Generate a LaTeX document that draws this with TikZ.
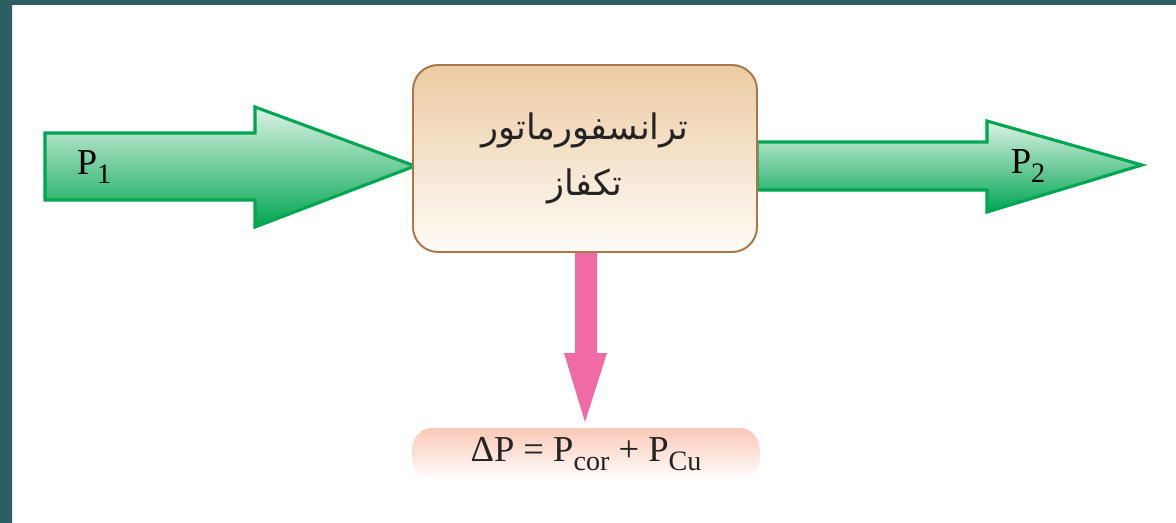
\documentclass[tikz,border=0pt]{standalone}
\usepackage{fontspec}
\setmainfont{Liberation Serif}
\newfontfamily\farsi[Script=Arabic]{DejaVu Sans}
\TeXXeTstate=1
\definecolor{frameteal}{RGB}{44,94,98}
\definecolor{arrgreen}{RGB}{0,166,81}
\definecolor{arrlight}{RGB}{222,242,230}
\definecolor{boxbrown}{RGB}{168,120,76}
\definecolor{boxtop}{RGB}{236,203,163}
\definecolor{boxbot}{RGB}{254,251,247}
\definecolor{losspink}{RGB}{240,106,166}
\definecolor{losstop}{RGB}{250,200,182}
\definecolor{txtgray}{RGB}{35,35,35}
\newcommand\lsub[1]{\raisebox{-.55ex}{\fontsize{20}{20}\selectfont #1}}
\tikzset{
  fatarrow/.style={draw=arrgreen,line width=2.2pt,line join=miter,top color=arrlight,bottom color=arrgreen},
  lossarrow/.style={fill=losspink},
  trafobox/.style={draw=boxbrown,line width=1.4pt,rounded corners=6.25mm,top color=boxtop,bottom color=boxbot,
    minimum width=86mm,minimum height=46.75mm,align=center,text=txtgray,font=\farsi\fontsize{25}{40}\selectfont},
  lossbox/.style={rounded corners=5mm,top color=losstop,bottom color=white,minimum width=86.75mm,minimum height=13mm,text=txtgray}
}
\begin{document}
\begin{tikzpicture}[x=.25mm,y=-.25mm,font=\fontsize{26}{30}\selectfont]
\useasboundingbox (0,0) rectangle (1176,523);
\fill[frameteal] (0,0) rectangle (12,523) (0,0) rectangle (1176,5);
% power in / power out
\path[fatarrow] (45,133) -- (255,133) -- (255,107) -- (415,166) -- (255,227) -- (255,200) -- (45,200) -- cycle;
\path[fatarrow] (757,142) -- (987,142) -- (987,121) -- (1142,165) -- (987,212) -- (987,190) -- (757,190) -- cycle;
% losses
\path[lossarrow] (575,250) -- (575,353) -- (564,353) -- (585,422) -- (607,353) -- (597,353) -- (597,250) -- cycle;
\node[trafobox] (trafo) at (585,158.5) {\beginR ترانسفورماتور\endR\\\beginR تکفاز\endR};
\node (p1) at (94,167) {P\lsub{1}};
\node (p2) at (1028,166) {P\lsub{2}};
\node[lossbox] (loss) at (586,454) {ΔP = P\lsub{cor} + P\lsub{Cu}};
\end{tikzpicture}
\end{document}
